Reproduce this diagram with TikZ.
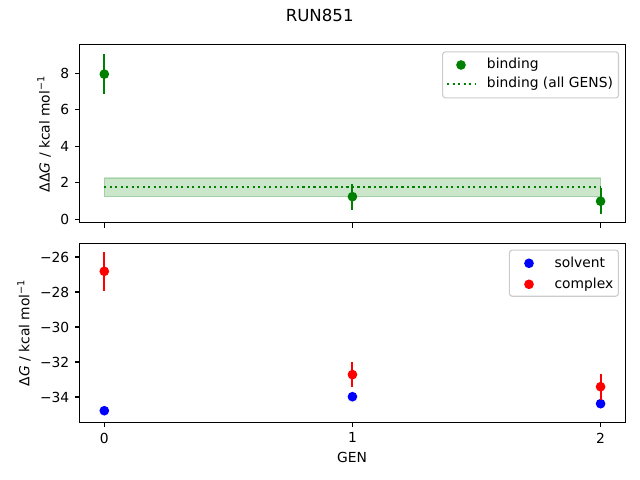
\documentclass[tikz,border=0pt]{standalone}
\usepackage{fontspec}
\setmainfont{DejaVu Sans}
\usepackage{tikz}
\definecolor{mplgreen}{HTML}{008000}
\definecolor{mplblue}{HTML}{0000FF}
\definecolor{mplred}{HTML}{FF0000}
\tikzstyle{axisframe}=[draw,line width=0.8pt]
\tikzstyle{tickmark}=[line width=0.8pt]
\tikzstyle{ticklabel}=[inner sep=0pt,font=\fontsize{10}{12}\selectfont]
\tikzstyle{axislabel}=[inner sep=0pt,font=\fontsize{10}{12}\selectfont]
\tikzstyle{errbar}=[line width=1.5pt]
\tikzstyle{dot}=[circle,inner sep=0pt,minimum size=7pt]
\tikzstyle{legendbox}=[draw=black!20,fill=white,fill opacity=0.8,line width=0.8pt,rounded corners=2pt,inner sep=0pt]
\tikzstyle{legendtext}=[inner sep=0pt,anchor=base west,font=\fontsize{10}{12}\selectfont]
\begin{document}
\begin{tikzpicture}[x=0.01in,y=-0.01in]
  \useasboundingbox (0,0) rectangle (640,480);
  \node[inner sep=0pt,anchor=base,font=\fontsize{12}{14}\selectfont] (title) at (319.7,21.7) {RUN851};
  % upper panel: binding free energy
  \begin{scope}[shift={(104.3,219.3)},x=2.48in,y=0.1825in]
    \fill[mplgreen,fill opacity=0.2] (0,1.24) rectangle (2,2.26);
    \draw[mplgreen,draw opacity=0.2,line width=1pt] (0,1.24) rectangle (2,2.26);
    \draw[mplgreen,line width=1.5pt,dash pattern=on 1.5pt off 2.475pt] (0,1.77) -- (2,1.77);
    \foreach \g/\v/\e in {0/7.95/1.1, 1/1.24/0.71, 2/0.99/0.7} {
      \draw[errbar,mplgreen] (\g,\v-\e) -- (\g,\v+\e);
      \node[dot,fill=mplgreen] (bind\g) at (\g,\v) {};
    }
    \draw[axisframe] (-0.1,-0.19) rectangle (2.1,9.55);
    \foreach \v in {0,2,...,8}
      \draw[tickmark] (-0.1,\v) -- ++(-3.5pt,0) node[ticklabel,anchor=east,xshift=-3.5pt] (ddG\v) {\v};
    \foreach \g in {0,1,2}
      \draw[tickmark] (\g,-0.19) -- ++(0,-3.5pt);
  \end{scope}
  \node[axislabel,rotate=90,anchor=base] (ddGlabel) at (49.5,133.9) {ΔΔ\textit{G} / kcal mol\textsuperscript{−1}};
  \node[legendbox,minimum width=1.757in,minimum height=0.46in] (legA) at (530.55,74.9) {};
  \node[dot,fill=mplgreen] (legAdot) at (461,65) {};
  \node[legendtext] (legAone) at (486.7,69) {binding};
  \draw[mplgreen,line width=1.5pt,dash pattern=on 1.5pt off 2.475pt] (447,84.3) -- (475,84.3);
  \node[legendtext] (legAtwo) at (486.7,88) {binding (all GENS)};
  % lower panel: solvent and complex legs
  \begin{scope}[shift={(104.3,-198.3)},x=2.48in,y=0.175in]
    \foreach \g/\v in {0/-34.78, 1/-33.98, 2/-34.38}
      \node[dot,fill=mplblue] (solv\g) at (\g,\v) {};
    \foreach \g/\v/\e in {0/-26.82/1.1, 1/-32.72/0.7, 2/-33.41/0.74} {
      \draw[errbar,mplred] (\g,\v-\e) -- (\g,\v+\e);
      \node[dot,fill=mplred] (cplx\g) at (\g,\v) {};
    }
    \draw[axisframe] (-0.1,-35.46) rectangle (2.1,-25.23);
    \foreach \v in {26,28,...,34}
      \draw[tickmark] (-0.1,-\v) -- ++(-3.5pt,0) node[ticklabel,anchor=east,xshift=-3.5pt] (dG\v) {−\v};
    \foreach \g in {0,1,2}
      \draw[tickmark] (\g,-35.46) -- ++(0,-3.5pt) node[ticklabel,anchor=north,yshift=-3.5pt] (gen\g) {\g};
  \end{scope}
  \node[axislabel,rotate=90,anchor=base] (dGlabel) at (29.3,332.8) {Δ\textit{G} / kcal mol\textsuperscript{−1}};
  \node[axislabel,anchor=base] (genlabel) at (352,462.3) {GEN};
  \node[legendbox,minimum width=1.09in,minimum height=0.46in] (legB) at (563.9,273.2) {};
  \node[dot,fill=mplblue] (legBsolv) at (529,263.3) {};
  \node[legendtext] (legBone) at (554.3,267.4) {solvent};
  \node[dot,fill=mplred] (legBcplx) at (529,284.3) {};
  \node[legendtext] (legBtwo) at (554.3,288.4) {complex};
\end{tikzpicture}
\end{document}
